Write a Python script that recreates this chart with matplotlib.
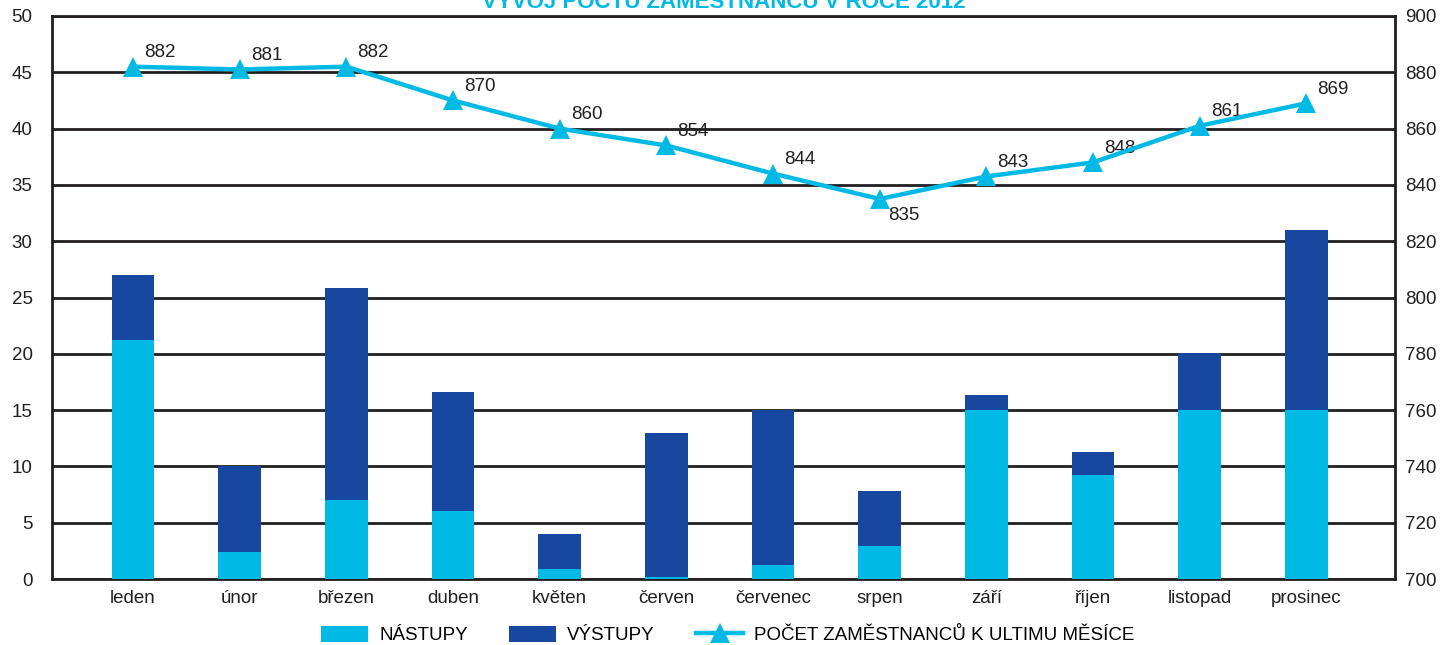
import matplotlib
matplotlib.use("Agg")
import matplotlib.pyplot as plt
from matplotlib.patches import Patch
from matplotlib.lines import Line2D

plt.rcParams['font.family'] = ['Liberation Sans', 'DejaVu Sans']

months = ["leden", "únor", "březen", "duben", "květen", "červen",
          "červenec", "srpen", "září", "říjen", "listopad", "prosinec"]
nastupy = [21.2, 2.4, 7.0, 6.0, 0.9, 0.2, 1.2, 2.9, 15.0, 9.2, 15.0, 15.0]
vystupy = [5.8, 7.6, 18.8, 10.6, 3.1, 12.8, 13.8, 4.9, 1.3, 2.1, 5.1, 16.0]
pocet = [882, 881, 882, 870, 860, 854, 844, 835, 843, 848, 861, 869]

title = "VÝVOJ POČTU ZAMĚSTNANCŮ V ROCE 2012"
leg_labels = ["NÁSTUPY", "VÝSTUPY", "POČET ZAMĚSTNANCŮ K ULTIMU MĚSÍCE"]

c_light = "#00B9E4"
c_dark = "#17479E"
c_grid = "#231F20"
fs = 13.5

W, H = 1447, 645
fig = plt.figure(figsize=(W / 100, H / 100), dpi=100)
ax = fig.add_axes([52 / W, 1 - 579 / H, (1395 - 52) / W, (579 - 16) / H])

x = list(range(len(months)))
ax.bar(x, nastupy, width=0.4, color=c_light, zorder=3)
ax.bar(x, vystupy, width=0.4, bottom=nastupy, color=c_dark, zorder=3)

ax.set_ylim(0, 50)
ax.set_yticks(range(0, 51, 5))
ax.set_xlim(-0.76, 11.83)
ax.set_xticks(x)
ax.set_xticklabels(months)
ax.yaxis.grid(True, color=c_grid, linewidth=2.0, zorder=0)
ax.set_axisbelow(True)
for s in ax.spines.values():
    s.set_color(c_grid)
    s.set_linewidth(2.0)
ax.tick_params(axis='both', length=0, labelsize=fs, colors="#231F20")
ax.tick_params(axis='x', pad=8)
ax.tick_params(axis='y', pad=14)

ax2 = ax.twinx()
ax2.plot(x, pocet, color=c_light, linewidth=3.2, marker='^', markersize=15,
         markeredgewidth=0, zorder=5, clip_on=False)
ax2.set_ylim(700, 900)
ax2.set_yticks(range(700, 901, 20))
ax2.tick_params(axis='y', length=0, labelsize=fs, colors="#231F20", pad=7)
for s in ax2.spines.values():
    s.set_visible(False)

for xi, v in zip(x, pocet):
    if v == min(pocet):
        ax2.annotate(str(v), (xi, v), xytext=(6, -6), textcoords='offset points',
                     ha='left', va='top', fontsize=fs, color="#231F20")
    else:
        ax2.annotate(str(v), (xi, v), xytext=(8, 4), textcoords='offset points',
                     ha='left', va='bottom', fontsize=fs, color="#231F20")

fig.text(0.5, 1 - 8 / H, title, ha='center', va='baseline', fontsize=16,
         fontweight='bold', color=c_light)

handles = [Patch(facecolor=c_light, edgecolor='none'),
           Patch(facecolor=c_dark, edgecolor='none'),
           Line2D([0], [0], color=c_light, linewidth=3.2, marker='^',
                  markersize=15, markeredgewidth=0)]
fig.legend(handles, leg_labels, loc='center', bbox_to_anchor=(728 / W, 1 - 635 / H),
           ncol=3, frameon=False, fontsize=fs, handlelength=2.5, handleheight=1.0,
           columnspacing=2.2, handletextpad=0.6, borderaxespad=0)

fig.savefig("out.png", dpi=100)
